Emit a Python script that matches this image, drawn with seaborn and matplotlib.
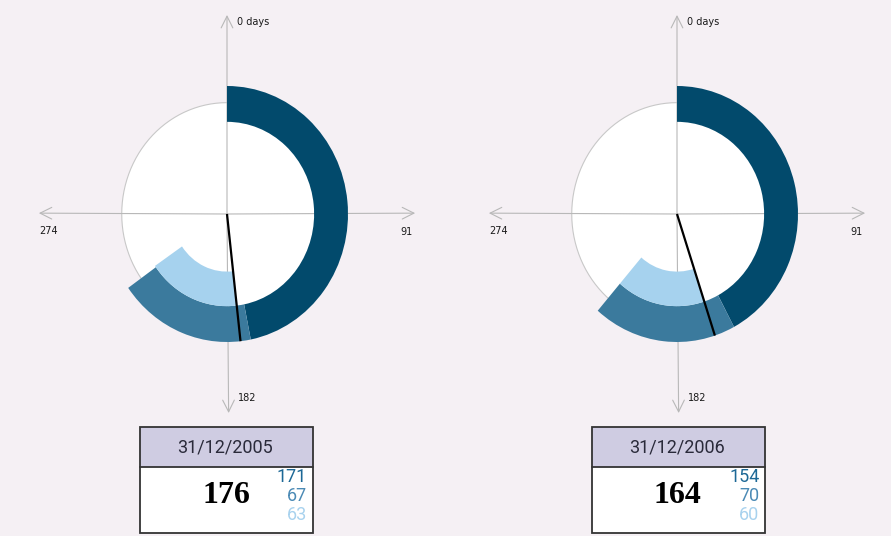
import numpy as np
import matplotlib
matplotlib.use("Agg")
import matplotlib.pyplot as plt
import seaborn as sns
from matplotlib.patches import Rectangle

# ---- data ----
dates = ["31/12/2005", "31/12/2006"]
totals = [176, 164]
first_vals = [171, 154]
second_vals = [67, 70]
third_vals = [63, 60]
axis_days = [0, 91, 182, 274]
axis_labels = ["0 days", "91", "182", "274"]
YEAR = 365

# ---- style ----
sns.set_theme(style="white")
plt.rcParams["font.family"] = ["DejaVu Sans"]
BG = "#f5f0f4"
DARK = "#024a6c"
MED = "#3b7a9d"
LIGHT = "#a6d2ee"
NUM_COLS = ["#1d6896", "#4b8ab5", "#a8d2ee"]
HEADER = "#cfcce2"
AXCOL = "#b8b8b8"
NARROW = ["Roboto", "DejaVu Sans"]
SERIF = ["Liberation Serif", "DejaVu Serif"]

W, H = 891, 536
fig = plt.figure(figsize=(W / 100, H / 100), dpi=100, facecolor=BG)


def frac(x0, y0, w, h):
    return [x0 / W, 1 - (y0 + h) / H, w / W, h / H]


def th(d):
    return np.asarray(d, dtype=float) * 2 * np.pi / YEAR


centers = [(227, 214), (677, 214)]
RMAX = 1.6
SX, SY = 121, 128  # pixels per unit radius (horizontal / vertical)
label_offsets = {
    "0 days": (7, -5, "left"),
    "91": (-1.5, -13.5, "right"),
    "182": (7, 11, "left"),
    "274": (0, -13, "left"),
}

for i in range(2):
    cx, cy = centers[i]
    ax = fig.add_axes(frac(cx - RMAX * SX, cy - RMAX * SY, 2 * RMAX * SX, 2 * RMAX * SY),
                      projection="polar")
    ax.set_aspect("auto")
    ax.set_theta_zero_location("N")
    ax.set_theta_direction(-1)
    ax.set_ylim(0, RMAX)
    ax.axis("off")
    ax.patch.set_alpha(0)

    # white background disc
    ax.bar(0, 0.87, width=2 * np.pi, bottom=0, align="edge", color="white",
           linewidth=0, zorder=1)
    ring = np.linspace(0, 2 * np.pi, 361)
    ax.plot(ring, np.full_like(ring, 0.87), color="#c8c8c8", lw=0.8, zorder=1.5)

    # axis arrows + labels
    for d, lab in zip(axis_days, axis_labels):
        ax.annotate("", xy=(th(d), 1.555), xytext=(0, 0),
                    arrowprops=dict(arrowstyle="->,head_length=0.7,head_width=0.35",
                                    color=AXCOL, lw=0.8, shrinkA=0, shrinkB=0),
                    zorder=2)
        dx, dy, ha = label_offsets[lab]
        ax.annotate(lab, xy=(th(d), 1.555), xytext=(dx, dy), textcoords="offset points",
                    ha=ha, va="center", fontsize=7, color="#1a1a1a", zorder=5)

    # rings
    ax.bar(th(0), 0.28, width=th(first_vals[i]), bottom=0.72, align="edge",
           color=DARK, linewidth=0, zorder=3)
    ax.bar(th(first_vals[i]), 0.28, width=th(second_vals[i]), bottom=0.72, align="edge",
           color=MED, linewidth=0, zorder=3)
    ax.bar(th(totals[i]), 0.27, width=th(third_vals[i]), bottom=0.45, align="edge",
           color=LIGHT, linewidth=0, zorder=3)

    # needle
    ax.plot([th(totals[i]), th(totals[i])], [0, 1.0], color="black", lw=1.6,
            solid_capstyle="butt", zorder=4)

    # info box
    bx0 = [139.5, 592][i]
    bw, bh, hh = 173, 106, 39.5
    bax = fig.add_axes(frac(bx0, 427, bw, bh))
    bax.set_xlim(0, bw)
    bax.set_ylim(bh, 0)
    bax.axis("off")
    bax.add_patch(Rectangle((0, 0), bw, hh, facecolor=HEADER, edgecolor="none", clip_on=False))
    bax.add_patch(Rectangle((0, hh), bw, bh - hh, facecolor="white", edgecolor="none", clip_on=False))
    bax.add_patch(Rectangle((0, 0), bw, bh, facecolor="none", edgecolor="#333333",
                            lw=1.3, clip_on=False))
    bax.plot([0, bw], [hh, hh], color="#333333", lw=1.3, clip_on=False)
    bax.text(bw / 2 - 1, 20.5, dates[i], ha="center", va="center", fontsize=13,
             family=NARROW, color="#2a2a3a")
    bax.text(86.5 - i, 68.5, str(totals[i]), ha="center", va="center", fontsize=23,
             family=SERIF, weight="bold", color="black")
    for k, v in enumerate([first_vals[i], second_vals[i], third_vals[i]]):
        bax.text(167.5, 50.5 + 18.5 * k, str(v), ha="right", va="center", fontsize=13,
                 family=NARROW, color=NUM_COLS[k])

fig.savefig("out.png", dpi=100, facecolor=BG)
